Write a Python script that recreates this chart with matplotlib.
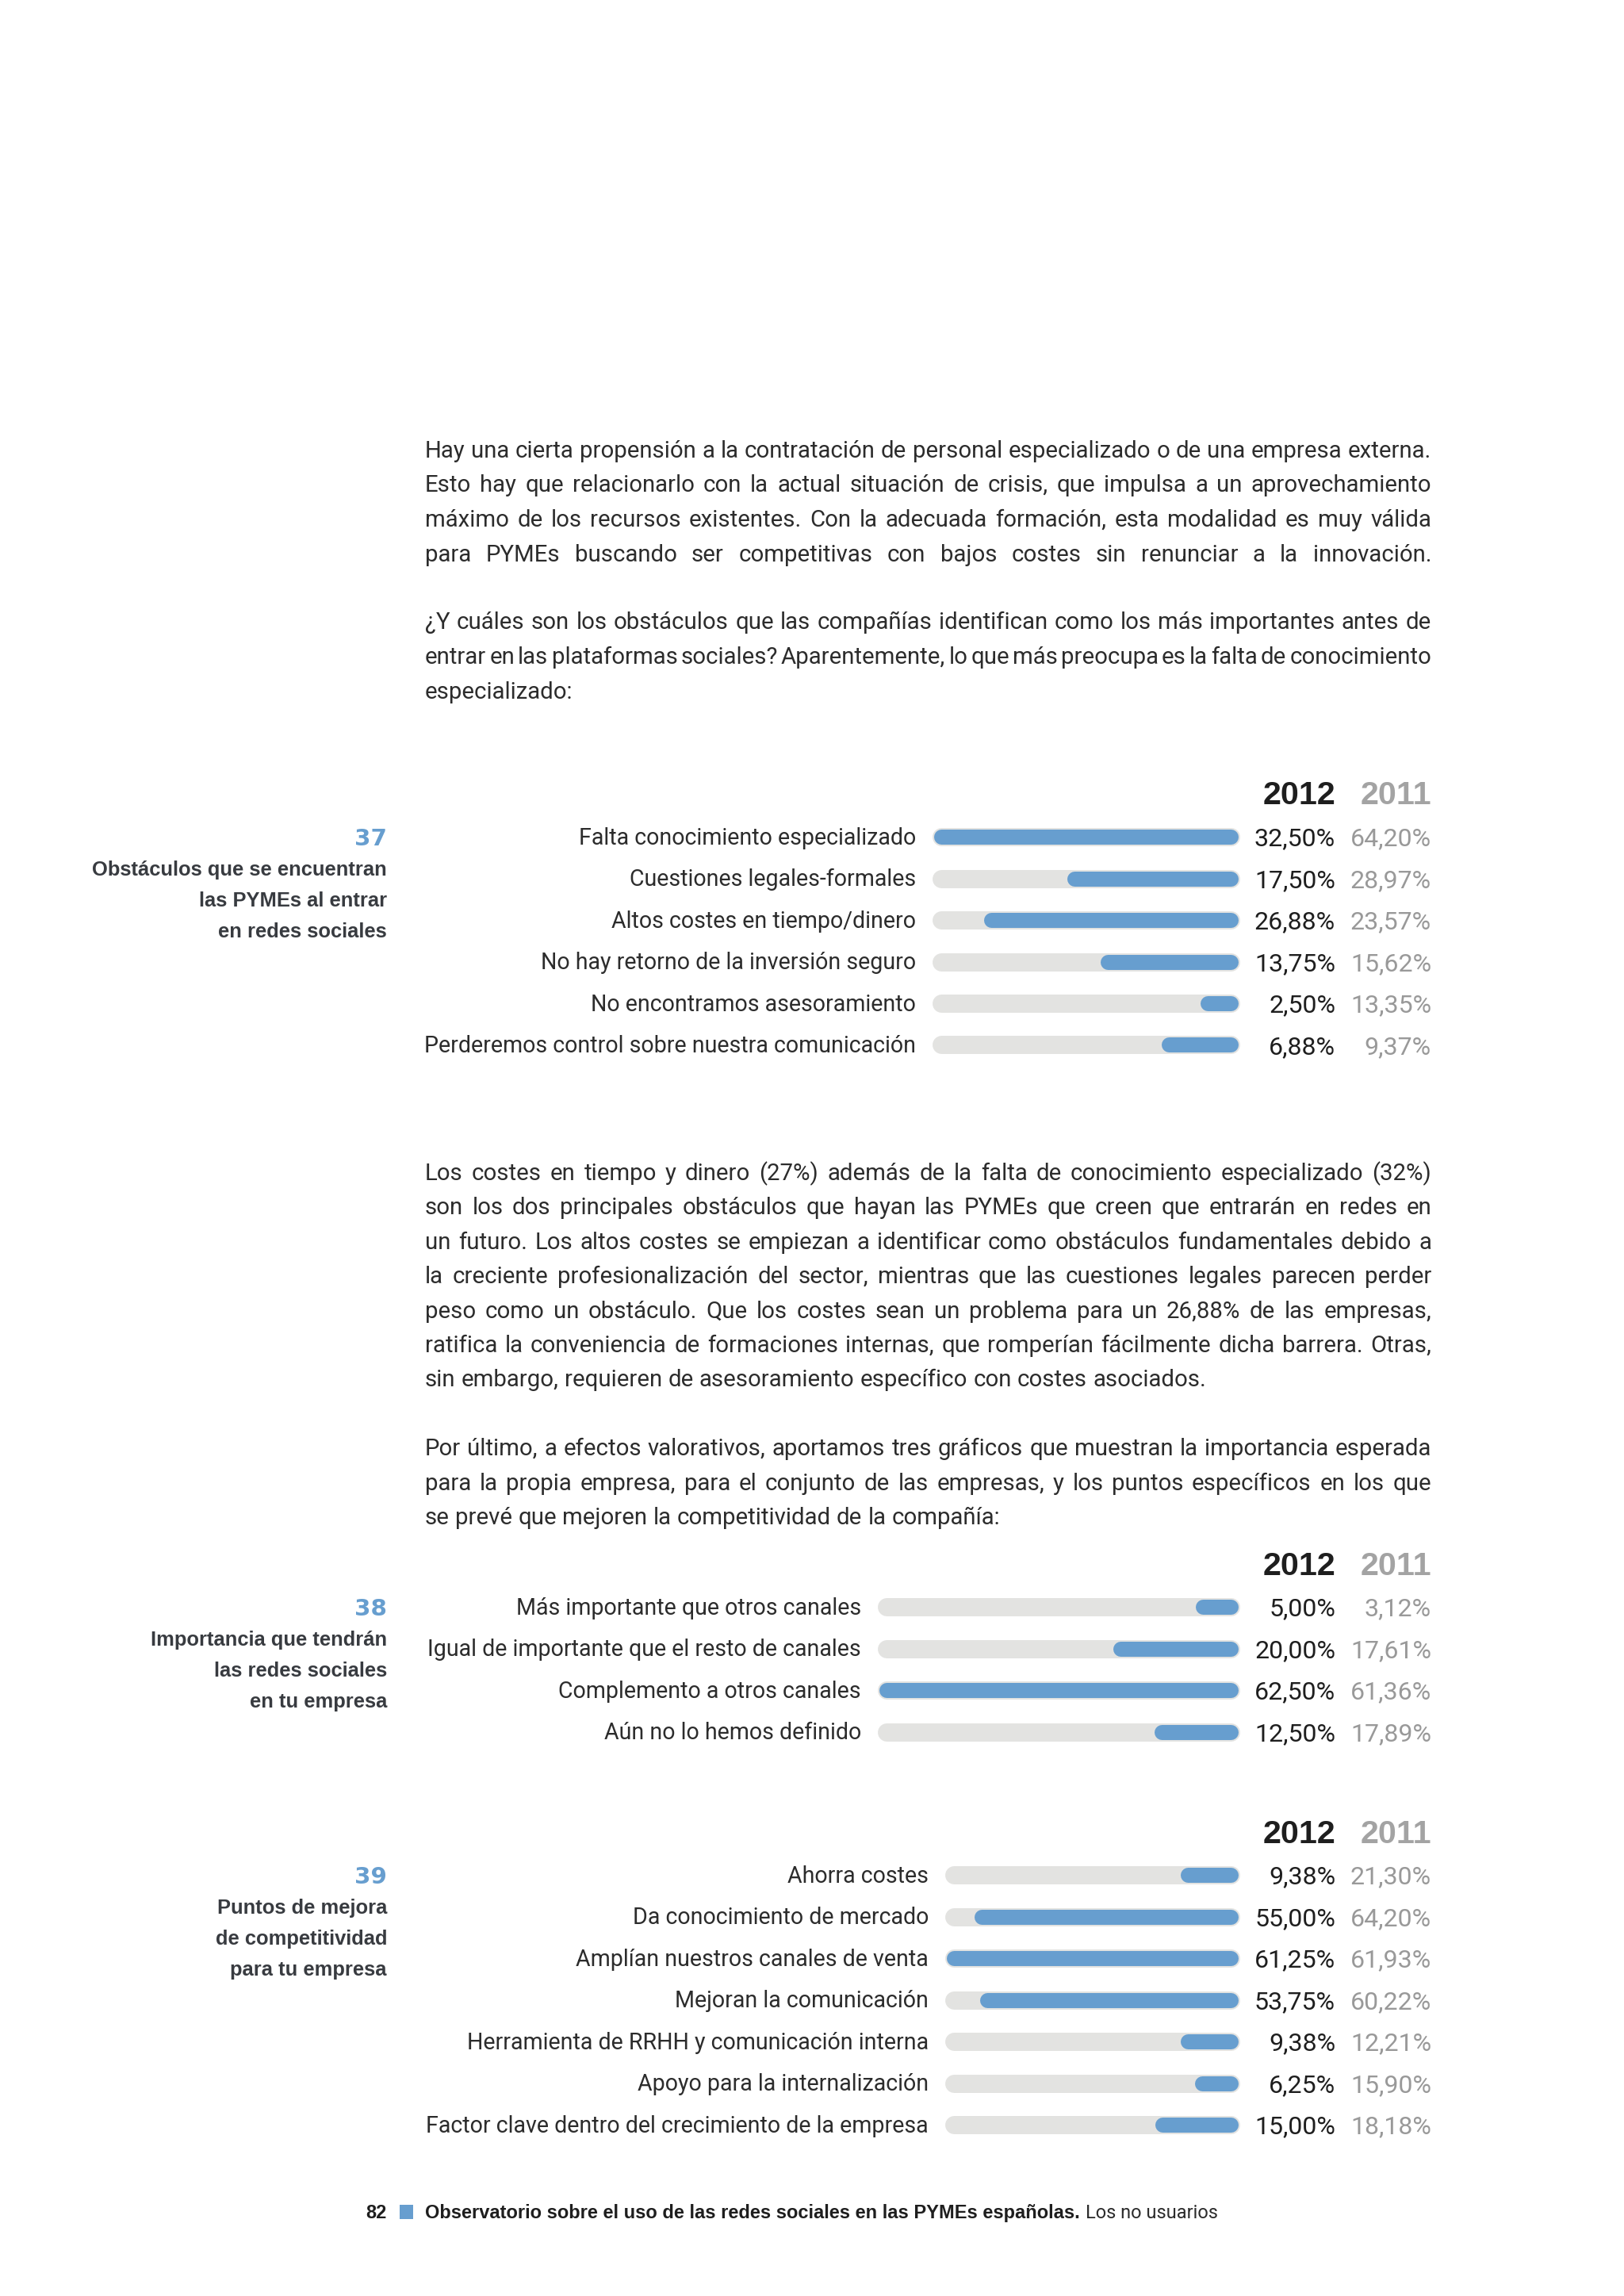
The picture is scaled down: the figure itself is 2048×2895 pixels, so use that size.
import matplotlib
matplotlib.use('Agg')
import matplotlib.pyplot as plt

# ---------------- data ----------------
c37_labels = ["Falta conocimiento especializado", "Cuestiones legales-formales",
              "Altos costes en tiempo/dinero", "No hay retorno de la inversión seguro",
              "No encontramos asesoramiento", "Perderemos control sobre nuestra comunicación"]
c37_2012 = [32.50, 17.50, 26.88, 13.75, 2.50, 6.88]
c37_2011 = [64.20, 28.97, 23.57, 15.62, 13.35, 9.37]

c38_labels = ["Más importante que otros canales", "Igual de importante que el resto de canales",
              "Complemento a otros canales", "Aún no lo hemos definido"]
c38_2012 = [5.00, 20.00, 62.50, 12.50]
c38_2011 = [3.12, 17.61, 61.36, 17.89]

c39_labels = ["Ahorra costes", "Da conocimiento de mercado", "Amplían nuestros canales de venta",
              "Mejoran la comunicación", "Herramienta de RRHH y comunicación interna",
              "Apoyo para la internalización", "Factor clave dentro del crecimiento de la empresa"]
c39_2012 = [9.38, 55.00, 61.25, 53.75, 9.38, 6.25, 15.00]
c39_2011 = [21.30, 64.20, 61.93, 60.22, 12.21, 15.90, 18.18]

years = ["2012", "2011"]
chart_numbers = ["37", "38", "39"]
chart_titles = [["Obstáculos que se encuentran", "las PYMEs al entrar", "en redes sociales"],
                ["Importancia que tendrán", "las redes sociales", "en tu empresa"],
                ["Puntos de mejora", "de competitividad", "para tu empresa"]]

par1 = ["Hay una cierta propensión a la contratación de personal especializado o de una empresa externa.",
        "Esto hay que relacionarlo con la actual situación de crisis, que impulsa a un aprovechamiento",
        "máximo de los recursos existentes. Con la adecuada formación, esta modalidad es muy válida",
        "para PYMEs buscando ser competitivas con bajos costes sin renunciar a la innovación."]
par2 = ["¿Y cuáles son los obstáculos que las compañías identifican como los más importantes antes de",
        "entrar en las plataformas sociales? Aparentemente, lo que más preocupa es la falta de conocimiento",
        "especializado:"]
par3 = ["Los costes en tiempo y dinero (27%) además de la falta de conocimiento especializado (32%)",
        "son los dos principales obstáculos que hayan las PYMEs que creen que entrarán en redes en",
        "un futuro. Los altos costes se empiezan a identificar como obstáculos fundamentales debido a",
        "la creciente profesionalización del sector, mientras que las cuestiones legales parecen perder",
        "peso como un obstáculo. Que los costes sean un problema para un 26,88% de las empresas,",
        "ratifica la conveniencia de formaciones internas, que romperían fácilmente dicha barrera. Otras,",
        "sin embargo, requieren de asesoramiento específico con costes asociados."]
par4 = ["Por último, a efectos valorativos, aportamos tres gráficos que muestran la importancia esperada",
        "para la propia empresa, para el conjunto de las empresas, y los puntos específicos en los que",
        "se prevé que mejoren la competitividad de la compañía:"]

footer_page = "82"
footer_bold = "Observatorio sobre el uso de las redes sociales en las PYMEs españolas."
footer_light = "Los no usuarios"

# ---------------- style ----------------
W, H, DPI = 2048, 2895, 100
BLUE = '#679ecf'
GRAY_TRACK = '#e3e3e1'
DARK = '#2c2c2c'
MID = '#999999'
TITLE_C = '#383b40'
LIGHT = dict(family=['Roboto', 'DejaVu Sans'], weight='normal')
BOLD = dict(family=['Liberation Sans', 'DejaVu Sans'], weight='bold')
TITLEF = dict(family=['Liberation Sans', 'DejaVu Sans'], weight='bold')
NUMF = dict(family=['DejaVu Sans'], weight='bold')

fig = plt.figure(figsize=(W / DPI, H / DPI), dpi=DPI)
fig.patch.set_facecolor('white')
renderer = fig.canvas.get_renderer()


def fx(x):
    return x / W


def fy(y):
    return 1 - y / H


def text_width(s, size, font):
    t = fig.text(0, 0, s, fontsize=size, **font)
    w = t.get_window_extent(renderer).width
    t.remove()
    return w


def fit_size(s, target, font):
    return 20 * target / text_width(s, 20, font)


def em(size):
    return size * DPI / 72


X_LEFT, X_RIGHT = 536, 1805

FS = fit_size("Perderemos control sobre nuestra comunicación", 620, LIGHT)
FS_VAL = fit_size("20,00%", 102, LIGHT)
FS_HEAD = fit_size("2012", 92, BOLD)
FS_TITLE = fit_size("Obstáculos que se encuentran", 371, TITLEF)
FS_NUM = fit_size("37", 41, NUMF)
FS_FOOT = fit_size(footer_bold, 822, BOLD)

# body font size: fitted so that justified lines get roughly natural spacing
full_lines = par1 + par2[:2] + par3[:6] + par4[:2]
ratios = sorted((X_RIGHT - X_LEFT) / text_width(l, 20, LIGHT) for l in full_lines)
FS_BODY = 20 * ratios[len(ratios) // 5] * 0.99


def draw_par(lines, ys, justify_last):
    sp = text_width('a a', FS_BODY, LIGHT) - text_width('aa', FS_BODY, LIGHT)
    for i, (line, yc) in enumerate(zip(lines, ys)):
        words = line.split(' ')
        size = FS_BODY
        last = i == len(lines) - 1
        while True:
            widths = [text_width(w, size, LIGHT) for w in words]
            if last and not justify_last:
                gap = sp * size / FS_BODY
                break
            gap = (X_RIGHT - X_LEFT - sum(widths)) / (len(words) - 1)
            if gap >= 0.55 * sp:
                break
            size *= 0.99
        yb = yc + 0.34 * em(FS_BODY)
        x = X_LEFT
        for w, wd in zip(words, widths):
            fig.text(fx(x), fy(yb), w, fontsize=size, color=DARK, ha='left', va='baseline', **LIGHT)
            x += wd + gap


draw_par(par1, [567, 610, 654, 698], True)
draw_par(par2, [783, 827, 871], False)
draw_par(par3, [1478, 1521, 1565, 1608, 1652, 1695, 1738], False)
draw_par(par4, [1825, 1869, 1912], False)

STEP = 52.5
X_TRACK1 = 1563
TRACK_PX, BAR_PX = 23, 19
X_V12, X_V11 = 1684, 1805


def pct(v):
    return f"{v:.2f}".replace('.', ',') + '%'


def draw_chart(k, labels, v12, v11, x_track0, row0, header_y):
    n = len(labels)
    left = x_track0 + TRACK_PX / 2
    right = X_TRACK1 - TRACK_PX / 2
    top = row0 - STEP / 2
    bottom = top + n * STEP
    ax = fig.add_axes([fx(left), fy(bottom), (right - left) / W, (bottom - top) / H])
    vmax = max(v12)
    ax.set_xlim(vmax, 0)
    ax.set_ylim(n - 0.5, -0.5)
    ax.axis('off')
    for i, v in enumerate(v12):
        ax.plot([0, vmax], [i, i], color=GRAY_TRACK, lw=TRACK_PX * 72 / DPI,
                solid_capstyle='round', clip_on=False)
        ax.plot([0, v], [i, i], color=BLUE, lw=BAR_PX * 72 / DPI,
                solid_capstyle='round', clip_on=False)
    for i, (lab, a, b) in enumerate(zip(labels, v12, v11)):
        yc = row0 + i * STEP
        fig.text(fx(x_track0 - 20), fy(yc + 0.34 * em(FS)), lab, fontsize=FS, color=DARK,
                 ha='right', va='baseline', **LIGHT)
        fig.text(fx(X_V12), fy(yc + 0.355 * em(FS_VAL)), pct(a), fontsize=FS_VAL, color='#1e1e1e',
                 ha='right', va='baseline', **LIGHT)
        fig.text(fx(X_V11), fy(yc + 0.355 * em(FS_VAL)), pct(b), fontsize=FS_VAL, color=MID,
                 ha='right', va='baseline', **LIGHT)
    hb = header_y + 0.36 * em(FS_HEAD)
    fig.text(fx(X_V12), fy(hb), years[0], fontsize=FS_HEAD, color='#1e1e1e', ha='right', va='baseline', **BOLD)
    fig.text(fx(X_V11), fy(hb), years[1], fontsize=FS_HEAD, color='#a3a3a3', ha='right', va='baseline', **BOLD)
    # side title
    fig.text(fx(488), fy(row0 + 0.36 * em(FS_NUM)), chart_numbers[k], fontsize=FS_NUM, color=BLUE,
             ha='right', va='baseline', **NUMF)
    for j, t in enumerate(chart_titles[k]):
        yb = row0 + 40 + j * 39 + 0.36 * em(FS_TITLE)
        fig.text(fx(488), fy(yb), t, fontsize=FS_TITLE, color=TITLE_C, ha='right', va='baseline', **TITLEF)


draw_chart(0, c37_labels, c37_2012, c37_2011, 1175, 1055, 999)
draw_chart(1, c38_labels, c38_2012, c38_2011, 1106, 2026, 1971)
draw_chart(2, c39_labels, c39_2012, c39_2011, 1191, 2364, 2309)

# footer
fb = 2789 + 0.36 * em(FS_FOOT)
fig.text(fx(488), fy(fb), footer_page, fontsize=FS_FOOT, color='#1e1e1e', ha='right', va='baseline', **BOLD)
fig.patches.append(plt.Rectangle((fx(504), fy(2798)), 17 / W, 18 / H, transform=fig.transFigure,
                                 color=BLUE, lw=0))
fig.text(fx(536), fy(fb), footer_bold, fontsize=FS_FOOT, color='#1e1e1e', ha='left', va='baseline', **BOLD)
wb = text_width(footer_bold, FS_FOOT, BOLD)
fig.text(fx(536 + wb + 7), fy(fb), footer_light, fontsize=FS_FOOT, color=DARK, ha='left', va='baseline', **LIGHT)

fig.savefig('out.png', dpi=DPI, facecolor='white')
